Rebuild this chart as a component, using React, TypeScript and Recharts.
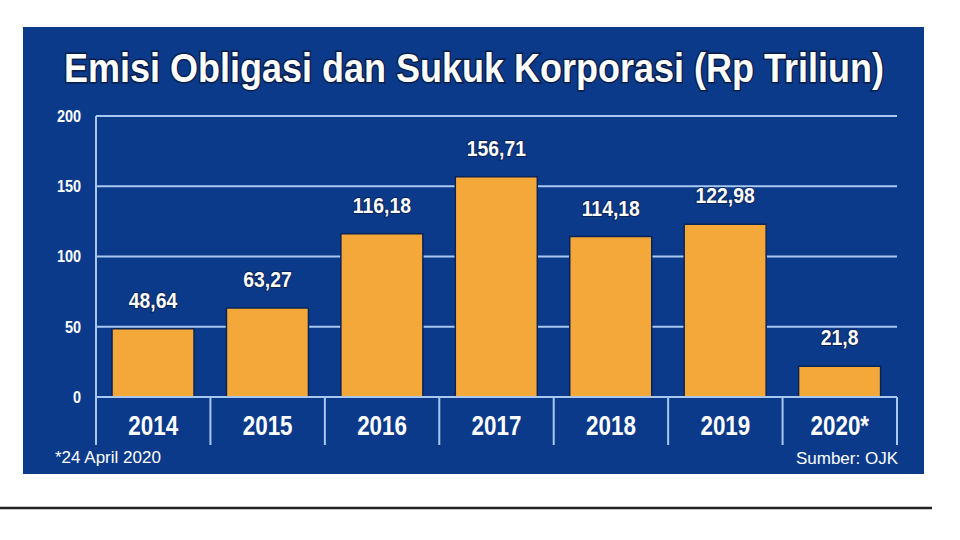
import React from "react";
import { BarChart, Bar, XAxis, YAxis, CartesianGrid, LabelList } from "recharts";

const years = ["2014", "2015", "2016", "2017", "2018", "2019", "2020*"];
const emisi = [48.64, 63.27, 116.18, 156.71, 114.18, 122.98, 21.8];
const yTicks = [0, 50, 100, 150, 200];

const title = "Emisi Obligasi dan Sukuk Korporasi (Rp Triliun)";
const footnote = "*24 April 2020";
const source = "Sumber: OJK";

const data = years.map((year, i) => ({ year, value: emisi[i] }));

const W = 960;
const H = 540;
const margin = { top: 116, right: 63, bottom: 93, left: 36 };
const Y_AXIS_W = 60;
const X_AXIS_H = 50;
const PLOT_W = W - margin.left - margin.right - Y_AXIS_W;

const PANEL = "#0b3a8b";
const BAR = "#f5a83a";
const GRID = "#a9c8f0";
const FONT = "'Liberation Sans', Arial, sans-serif";

const fmt = (v: number) => String(v).replace(".", ",");

function YTick(props: any) {
  const { x, y, payload } = props;
  return (
    <g transform={`translate(${x},${y}) scale(0.85,1)`}>
      <text x={0} y={0} dy="0.35em" textAnchor="end" fill="#fff" fontSize={17} fontWeight={700} fontFamily={FONT}>
        {payload.value}
      </text>
    </g>
  );
}

function XTick(props: any) {
  const { x, y, payload, index } = props;
  const bw = PLOT_W / years.length;
  return (
    <g>
      <line x1={x - bw / 2} x2={x - bw / 2} y1={y} y2={y + 48} stroke={GRID} strokeWidth={2} />
      {index === years.length - 1 && (
        <line x1={x + bw / 2} x2={x + bw / 2} y1={y} y2={y + 48} stroke={GRID} strokeWidth={2} />
      )}
      <g transform={`translate(${x},${y + 38}) scale(0.8,1)`}>
        <text x={0} y={0} textAnchor="middle" fill="#fff" fontSize={28} fontWeight={700} fontFamily={FONT}>
          {payload.value}
        </text>
      </g>
    </g>
  );
}

function ValueLabel(props: any) {
  const { x, y, width, value } = props;
  return (
    <g transform={`translate(${x + width / 2},${y - 21}) scale(0.88,1)`}>
      <text
        x={0}
        y={0}
        textAnchor="middle"
        fill="#fff"
        fontSize={22}
        fontWeight={700}
        fontFamily={FONT}
        stroke="#0a2458"
        strokeWidth={2}
        paintOrder="stroke"
      >
        {fmt(value)}
      </text>
    </g>
  );
}

export default function App() {
  return (
    <div style={{ position: "absolute", left: 0, top: 0, width: W, height: H, background: "#fff" }}>
      <div style={{ position: "absolute", left: 23, top: 27, width: 901, height: 447, background: PANEL }} />
      <div style={{ position: "absolute", left: 0, top: 0 }}>
        <BarChart width={W} height={H} data={data} margin={margin} barCategoryGap="14%">
          <CartesianGrid horizontal vertical={false} stroke={GRID} strokeWidth={2} />
          <YAxis
            domain={[0, 200]}
            ticks={yTicks}
            width={Y_AXIS_W}
            axisLine={{ stroke: GRID, strokeWidth: 2 }}
            tickLine={false}
            tickSize={6}
            tickMargin={9}
            tick={<YTick />}
            interval={0}
          />
          <XAxis
            dataKey="year"
            height={X_AXIS_H}
            axisLine={{ stroke: GRID, strokeWidth: 2 }}
            tickLine={false}
            tickSize={0}
            tickMargin={0}
            tick={<XTick />}
            interval={0}
          />
          <Bar dataKey="value" fill={BAR} stroke="#0a2458" strokeWidth={1.5} isAnimationActive={false}>
            <LabelList dataKey="value" content={<ValueLabel />} />
          </Bar>
        </BarChart>
      </div>
      <svg width={W} height={H} style={{ position: "absolute", left: 0, top: 0, pointerEvents: "none" }}>
        <g transform="translate(474,82) scale(0.9,1)">
          <text
            x={0}
            y={0}
            textAnchor="middle"
            fill="#fff"
            fontSize={40}
            fontWeight={700}
            fontFamily={FONT}
            stroke="#081d48"
            strokeWidth={3}
            paintOrder="stroke"
          >
            {title}
          </text>
        </g>
        <text x={55} y={463} fill="#fff" fontSize={17} fontFamily={FONT}>
          {footnote}
        </text>
        <text x={898} y={464} textAnchor="end" fill="#fff" fontSize={17} fontFamily={FONT}>
          {source}
        </text>
        <line x1={0} x2={932} y1={508} y2={508} stroke="#222" strokeWidth={2.5} />
      </svg>
    </div>
  );
}
